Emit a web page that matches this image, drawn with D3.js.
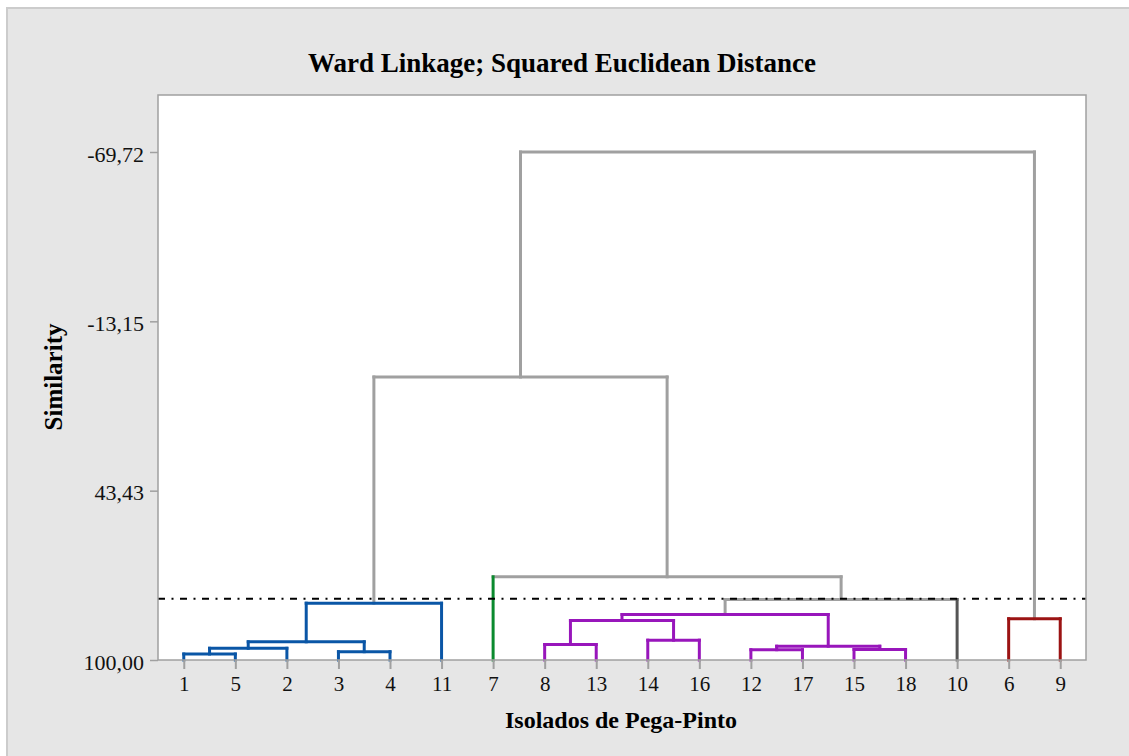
<!DOCTYPE html>
<html><head><meta charset="utf-8">
<script src="https://cdn.jsdelivr.net/npm/d3@7"></script>
<style>body{margin:0;background:#fff;} svg{display:block;}</style>
</head><body>
<svg id="chart" width="1129" height="756"></svg>
<script>
// ---- data ----
const leaves = ["1","5","2","3","4","11","7","8","13","14","16","12","17","15","18","10","6","9"];
const leafCluster = [0,0,0,0,0,0,1,2,2,2,2,2,2,2,2,3,4,4];
const clusterColors = ["#0a56a6","#0b8a2e","#9816bb","#555555","#9b1313"];
// merges: [left node, right node, similarity]; nodes 0..17 are leaves, 18+ are merges in order
const merges = [
  [0, 1, 98.0],    // 18: 1+5
  [18, 2, 96.09],  // 19: +2
  [3, 4, 97.23],   // 20: 3+4
  [19, 20, 93.92], // 21
  [21, 5, 81.02],  // 22: +11
  [7, 8, 94.82],   // 23: 8+13
  [9, 10, 93.38],  // 24: 14+16
  [23, 24, 86.80], // 25
  [11, 12, 96.56], // 26: 12+17
  [13, 14, 96.49], // 27: 15+18
  [26, 27, 95.39], // 28
  [25, 28, 84.80], // 29
  [29, 15, 79.79], // 30: +10
  [16, 17, 86.23], // 31: 6+9
  [6, 30, 72.20],  // 32: 7+...
  [22, 32, 5.45],  // 33
  [33, 31, -69.72] // 34
];
const cutoff = 79.52;
const yTickValues = [100, 43.43, -13.15, -69.72];
const yTickLabels = ["100,00", "43,43", "-13,15", "-69,72"];
const title = "Ward Linkage; Squared Euclidean Distance";
const xTitle = "Isolados de Pega-Pinto";
const yTitle = "Similarity";

// ---- layout ----
const svg = d3.select("#chart");
const L = 158, R = 1086, T = 95, B = 660;
const font = "'Liberation Serif','Times New Roman',serif";
const gray = "#a0a0a0";

svg.append("rect").attr("x", 7).attr("y", 8).attr("width", 1140).attr("height", 760)
  .attr("fill", "#e6e6e6").attr("stroke", "#cccccc").attr("stroke-width", 2);
svg.append("rect").attr("x", L).attr("y", T).attr("width", R - L).attr("height", B - T)
  .attr("fill", "#ffffff");

const x = d3.scalePoint().domain(leaves).range([L, R]).padding(0.5);
const y = d3.scaleLinear().domain([100, -69.72]).range([B, 152]);

// ---- nodes ----
const nodes = leaves.map((name, i) => ({x: x(name), sim: 100, cluster: leafCluster[i], leaf: true}));
merges.forEach(([a, b, s]) => {
  const na = nodes[a], nb = nodes[b];
  const c = (na.cluster === nb.cluster && na.cluster >= 0) ? na.cluster : -1;
  nodes.push({x: (na.x + nb.x) / 2, sim: s, cluster: c, leaf: false, children: [a, b]});
});
const colorOf = c => c >= 0 ? clusterColors[c] : gray;

const segs = [];
nodes.forEach(n => {
  if (n.leaf) return;
  n.children.forEach(ci => {
    const ch = nodes[ci];
    const col = ch.leaf ? colorOf(ch.cluster) : (ch.cluster === n.cluster ? colorOf(n.cluster) : gray);
    segs.push({x1: ch.x, y1: y(ch.sim), x2: ch.x, y2: y(n.sim), color: col, g: col === gray});
  });
  const [a, b] = n.children;
  segs.push({x1: nodes[a].x, y1: y(n.sim), x2: nodes[b].x, y2: y(n.sim), color: colorOf(n.cluster), g: n.cluster < 0});
});
segs.sort((p, q) => (q.g ? 1 : 0) - (p.g ? 1 : 0));

svg.append("g").selectAll("line").data(segs).join("line")
  .attr("x1", d => d.x1).attr("y1", d => d.y1).attr("x2", d => d.x2).attr("y2", d => d.y2)
  .attr("stroke", d => d.color).attr("stroke-width", 3).attr("stroke-linecap", "square");

// cutoff line
svg.append("line").attr("x1", L).attr("x2", R).attr("y1", y(cutoff)).attr("y2", y(cutoff))
  .attr("stroke", "#000").attr("stroke-width", 2).attr("stroke-dasharray", "7,6.5,2,6.5");

// plot border
svg.append("rect").attr("x", L).attr("y", T).attr("width", R - L).attr("height", B - T)
  .attr("fill", "none").attr("stroke", gray).attr("stroke-width", 1.5);

// axes
const xAxis = d3.axisBottom(x).tickSize(9).tickPadding(6);
const gx = svg.append("g").attr("transform", `translate(0,${B})`).call(xAxis);
gx.select(".domain").remove();
gx.selectAll(".tick line").attr("stroke", gray).attr("stroke-width", 2);
gx.selectAll(".tick text").attr("font-family", font).attr("font-size", 21).attr("fill", "#111").attr("dy", "0.75em");

const yAxis = d3.axisLeft(y).tickValues(yTickValues).tickFormat((d, i) => yTickLabels[i]).tickSize(8).tickPadding(6);
const gy = svg.append("g").attr("transform", `translate(${L},0)`).call(yAxis);
gy.select(".domain").remove();
gy.selectAll(".tick line").attr("stroke", gray).attr("stroke-width", 1.5);
gy.selectAll(".tick text").attr("font-family", font).attr("font-size", 22).attr("fill", "#111").attr("dy", "0.42em");

// titles
svg.append("text").attr("x", 562).attr("y", 72).attr("text-anchor", "middle")
  .attr("font-family", font).attr("font-weight", "bold").attr("font-size", 27).attr("fill", "#000").text(title);
svg.append("text").attr("x", 621).attr("y", 728).attr("text-anchor", "middle")
  .attr("font-family", font).attr("font-weight", "bold").attr("font-size", 24).attr("fill", "#000").text(xTitle);
svg.append("text").attr("transform", "translate(62,377) rotate(-90)").attr("text-anchor", "middle")
  .attr("font-family", font).attr("font-weight", "bold").attr("font-size", 25).attr("fill", "#000").text(yTitle);
</script>
</body></html>
